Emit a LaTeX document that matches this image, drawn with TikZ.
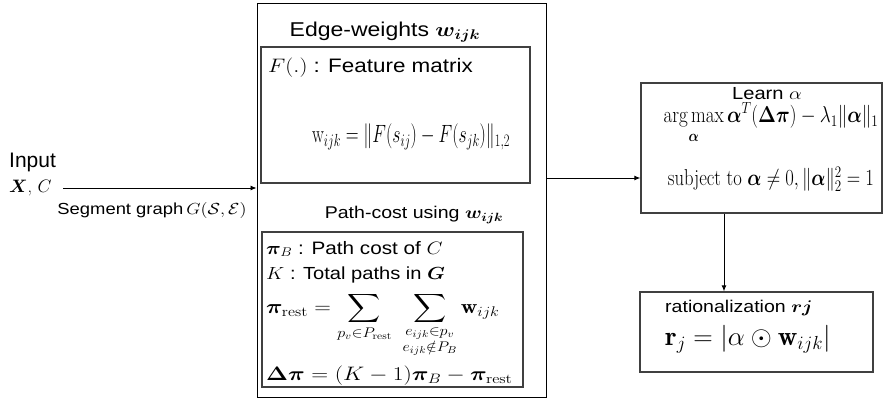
\RequirePackage{fix-cm}
\documentclass[tikz,border=0pt]{standalone}
\usepackage{amsmath,amssymb,bm}
\usepackage{graphicx}
\usepackage{fontspec}
\setsansfont{Liberation Sans}
\usetikzlibrary{arrows.meta,positioning}

\newcommand{\widen}[2][1.15]{\scalebox{#1}[1]{#2}}
\newcommand{\fsz}[1]{\fontsize{#1}{#1}\selectfont}

\tikzstyle{frame}   = [rectangle, draw, line width=1pt, inner sep=0pt]
\tikzstyle{panel}   = [rectangle, draw=black!75, line width=1.3pt, inner sep=0pt]
\tikzstyle{txt}     = [inner sep=0pt, font=\sffamily]
\tikzstyle{entry}   = [inner sep=0pt, anchor=west, font=\sffamily]
\tikzstyle{arrow}   = [-{Latex[length=6pt,width=5pt]}, line width=0.9pt]

\begin{document}
\begin{tikzpicture}[x=1pt, y=-1pt]
  \useasboundingbox (0,0) rectangle (889,401);

  % input side
  \node[entry] (inp) at (9,162) {\fsz{21}Input};
  \node[inner sep=0pt, anchor=west] (xc) at (9,188) {\fsz{18}$\bm{X}$, $C$};
  \node[txt] (seg) at (152,210) {\fsz{16}\widen{Segment graph\,$G(\mathcal{S},\mathcal{E})$}};

  % middle block
  \node[frame, minimum width=289pt, minimum height=393pt] (outer) at (401.5,200.5) {};
  \node[txt] (t1) at (385,32) {\fsz{20}\widen{Edge-weights $\bm{w_{ijk}}$}};
  \node[panel, minimum width=269pt, minimum height=136pt] (box1) at (395.5,115) {};
  \node[entry] (feat) at (268,68) {\fsz{19.5}\widen{$F(.)$ : Feature matrix}};
  \node[inner sep=0pt] (weq) at (411,137)
    {\fsz{25}\widen[0.71]{$\mathrm{w}_{ijk} = \|F(s_{ij}) - F(s_{jk})\|_{1,2}$}};

  \node[txt] (t2) at (414,215) {\fsz{17}\widen{Path-cost using $\bm{w_{ijk}}$}};
  \node[panel, minimum width=261pt, minimum height=155pt] (box2) at (392.5,309.5) {};
  \node[entry] (pib) at (266,249) {\fsz{18}\widen{$\bm{\pi}_B$ : Path cost of $C$}};
  \node[entry] (kk) at (266,275) {\fsz{17.5}\widen{$K$ : Total paths in $\bm{G}$}};
  \node[inner sep=0pt, anchor=north west] (rest) at (266,292)
    {\fsz{20}\widen{$\bm{\pi}_{\mathrm{rest}} = \displaystyle\sum_{p_v\in P_{\mathrm{rest}}}\ \sum_{\substack{e_{ijk}\in p_v\\ e_{ijk}\notin P_B}} \mathbf{w}_{ijk}$}};
  \node[inner sep=0pt, anchor=west] (dpi) at (266,376)
    {\fsz{19.5}\widen[1.2]{$\bm{\Delta\pi} = (K-1)\bm{\pi}_B - \bm{\pi}_{\mathrm{rest}}$}};

  % right side
  \node[panel, minimum width=241pt, minimum height=130pt] (learn) at (761.5,148) {};
  \node[txt] (t3) at (767,94) {\fsz{17.5}\widen{Learn $\alpha$}};
  \node[inner sep=0pt] (amax) at (771,123)
    {\fsz{23}\widen[0.83]{$\displaystyle\operatorname*{arg\,max}_{\bm{\alpha}}\bm{\alpha}^T(\bm{\Delta\pi}) - \lambda_1\|\bm{\alpha}\|_1$}};
  \node[inner sep=0pt] (subj) at (771,179)
    {\fsz{23}\widen[0.81]{subject to $\bm{\alpha}\neq 0, \|\bm{\alpha}\|_2^2 = 1$}};

  \node[panel, minimum width=233pt, minimum height=80pt] (rat) at (756.5,332) {};
  \node[entry] (t4) at (665,308) {\fsz{17}\widen{rationalization $\bm{rj}$}};
  \node[inner sep=0pt, anchor=west] (req) at (665,339)
    {\fsz{27}$\mathbf{r}_j = \left|\alpha\odot\mathbf{w}_{ijk}\right|$};

  % connectors
  \coordinate (xs) at (63,188);
  \coordinate (mid) at (590,178);
  \coordinate (down) at (724,250);
  \draw[arrow] (xs) -- (xs -| outer.west);
  \draw[arrow] (mid -| outer.east) -- (mid -| learn.west);
  \draw[arrow] (down |- learn.south) -- (down |- rat.north);
\end{tikzpicture}
\end{document}
